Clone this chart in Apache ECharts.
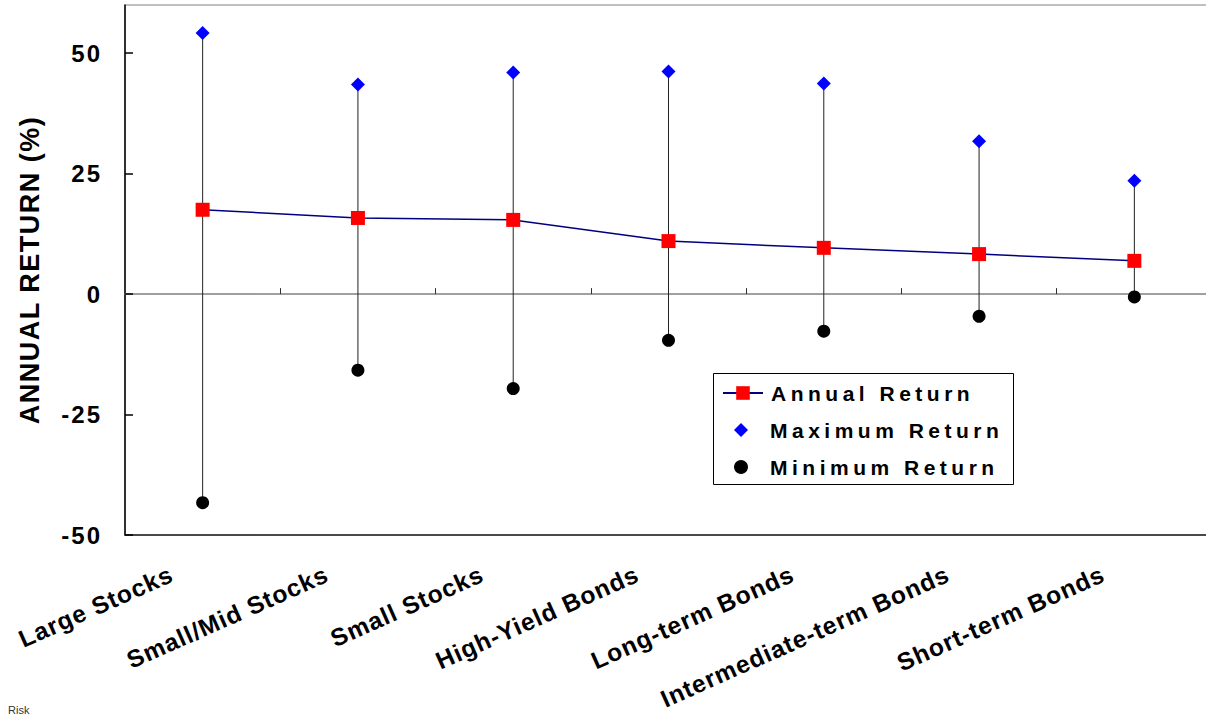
<!DOCTYPE html>
<html>
<head>
<meta charset="utf-8">
<script src="https://cdn.jsdelivr.net/npm/echarts@6/dist/echarts.min.js"></script>
<style>
html,body{margin:0;padding:0;background:#fff;}
#c{width:1206px;height:717px;}
#c text[style*="24px"]{letter-spacing:2px;}
#c text[style*="24.5px"]{letter-spacing:1px;}
#c text[style*="21px"]{letter-spacing:4.5px;}
#c text[style*="27px"]{letter-spacing:1.5px;}
</style>
</head>
<body>
<div id="c"></div>
<script>
const categories = ['Large Stocks', 'Small/Mid Stocks', 'Small Stocks', 'High-Yield Bonds', 'Long-term Bonds', 'Intermediate-term Bonds', 'Short-term Bonds'];
const annualReturn = [17.5, 15.8, 15.4, 11.0, 9.6, 8.3, 6.9];
const maxReturn = [54.2, 43.5, 46.0, 46.2, 43.7, 31.7, 23.5];
const minReturn = [-43.3, -15.8, -19.6, -9.6, -7.7, -4.6, -0.6];
const seriesNames = ['Annual Return', 'Maximum Return', 'Minimum Return'];
const yMin = -50, yMax = 60, yInterval = 25;
const yTitle = 'ANNUAL RETURN (%)';
const footnote = 'Risk';

const FF = '"Liberation Sans", Arial, sans-serif';
const chart = echarts.init(document.getElementById('c'), null, {renderer: 'svg'});

const rangeData = categories.map((c, i) => [i, minReturn[i], maxReturn[i]]);
const legendText = {fontSize: 21, fontWeight: 'bold', color: '#000', fontFamily: FF, lineHeight: 22};

chart.setOption({
  animation: false,
  backgroundColor: '#fff',
  title: {
    text: footnote, left: 8, top: 704, padding: 0,
    textStyle: {fontSize: 11, fontWeight: 'normal', color: '#333', fontFamily: FF}
  },
  grid: {
    left: 125, top: 5, right: -6, bottom: 182,
    show: true, borderColor: '#808080', borderWidth: 1,
    outerBoundsMode: 'none', containLabel: false
  },
  legend: [{
    orient: 'vertical', left: 713, top: 373, padding: [9, 10, 0, 9],
    itemWidth: 40, itemHeight: 17, itemGap: 15,
    selectedMode: false,
    data: [seriesNames[0]],
    textStyle: Object.assign({padding: [0, 0, 0, 3]}, legendText)
  }, {
    orient: 'vertical', left: 713, top: 419, padding: [0, 0, 0, 21],
    itemWidth: 14, itemHeight: 14, itemGap: 15,
    selectedMode: false,
    data: [{name: seriesNames[1], icon: 'diamond'}, {name: seriesNames[2], icon: 'circle'}],
    textStyle: Object.assign({padding: [0, 0, 0, 17]}, legendText)
  }],
  graphic: [{
    type: 'rect', z: 0,
    shape: {x: 713.5, y: 373.5, width: 300, height: 111},
    style: {fill: 'none', stroke: '#000', lineWidth: 1}
  }],
  xAxis: [{
    type: 'category', data: categories, position: 'bottom',
    axisLine: {show: true, onZero: true, lineStyle: {color: '#808080', width: 1.5}},
    axisTick: {show: true, inside: true, length: 6, interval: 0, lineStyle: {color: '#333', width: 1}},
    axisLabel: {show: false, interval: 0}, splitLine: {show: false}
  }, {
    type: 'category', data: categories, position: 'bottom',
    axisLine: {show: true, onZero: false, lineStyle: {color: '#222', width: 1.5}},
    axisTick: {show: false}, splitLine: {show: false},
    axisLabel: {
      interval: 0, rotate: 24, margin: 24,
      formatter: v => '{a|' + v + '}',
      rich: {a: {fontSize: 24.5, fontWeight: 'bold', color: '#000', fontFamily: FF, padding: [0, 34, 0, 0]}}
    }
  }],
  yAxis: {
    type: 'value', min: yMin, max: yMax, interval: yInterval,
    name: yTitle, nameLocation: 'middle', nameGap: 82,
    nameTextStyle: {fontSize: 27, fontWeight: 'bold', color: '#000', fontFamily: FF},
    axisLine: {show: true, lineStyle: {color: '#000', width: 1.5}},
    axisTick: {show: true, inside: true, length: 8, lineStyle: {color: '#000', width: 1.5}},
    axisLabel: {fontSize: 24, fontWeight: 'bold', color: '#000', fontFamily: FF, margin: 23, showMaxLabel: false},
    splitLine: {show: false}
  },
  series: [{
    type: 'custom', name: 'range', z: 1, silent: true,
    data: rangeData,
    encode: {x: 0, y: [1, 2]},
    renderItem: (params, api) => {
      const i = api.value(0);
      const p1 = api.coord([i, api.value(1)]);
      const p2 = api.coord([i, api.value(2)]);
      return {type: 'line', shape: {x1: p1[0], y1: p1[1], x2: p2[0], y2: p2[1]}, style: {stroke: '#222', lineWidth: 1}};
    }
  }, {
    type: 'line', name: seriesNames[0], data: annualReturn, z: 3,
    symbol: 'rect', symbolSize: 14, showAllSymbol: true,
    lineStyle: {color: '#000080', width: 1.5},
    itemStyle: {color: '#ff0000', opacity: 1}
  }, {
    type: 'scatter', name: seriesNames[1], data: maxReturn, z: 4,
    symbol: 'diamond', symbolSize: 14,
    itemStyle: {color: '#0000ff', opacity: 1}
  }, {
    type: 'scatter', name: seriesNames[2], data: minReturn, z: 4,
    symbol: 'circle', symbolSize: 13,
    itemStyle: {color: '#000', opacity: 1}
  }]
});
</script>
</body>
</html>
